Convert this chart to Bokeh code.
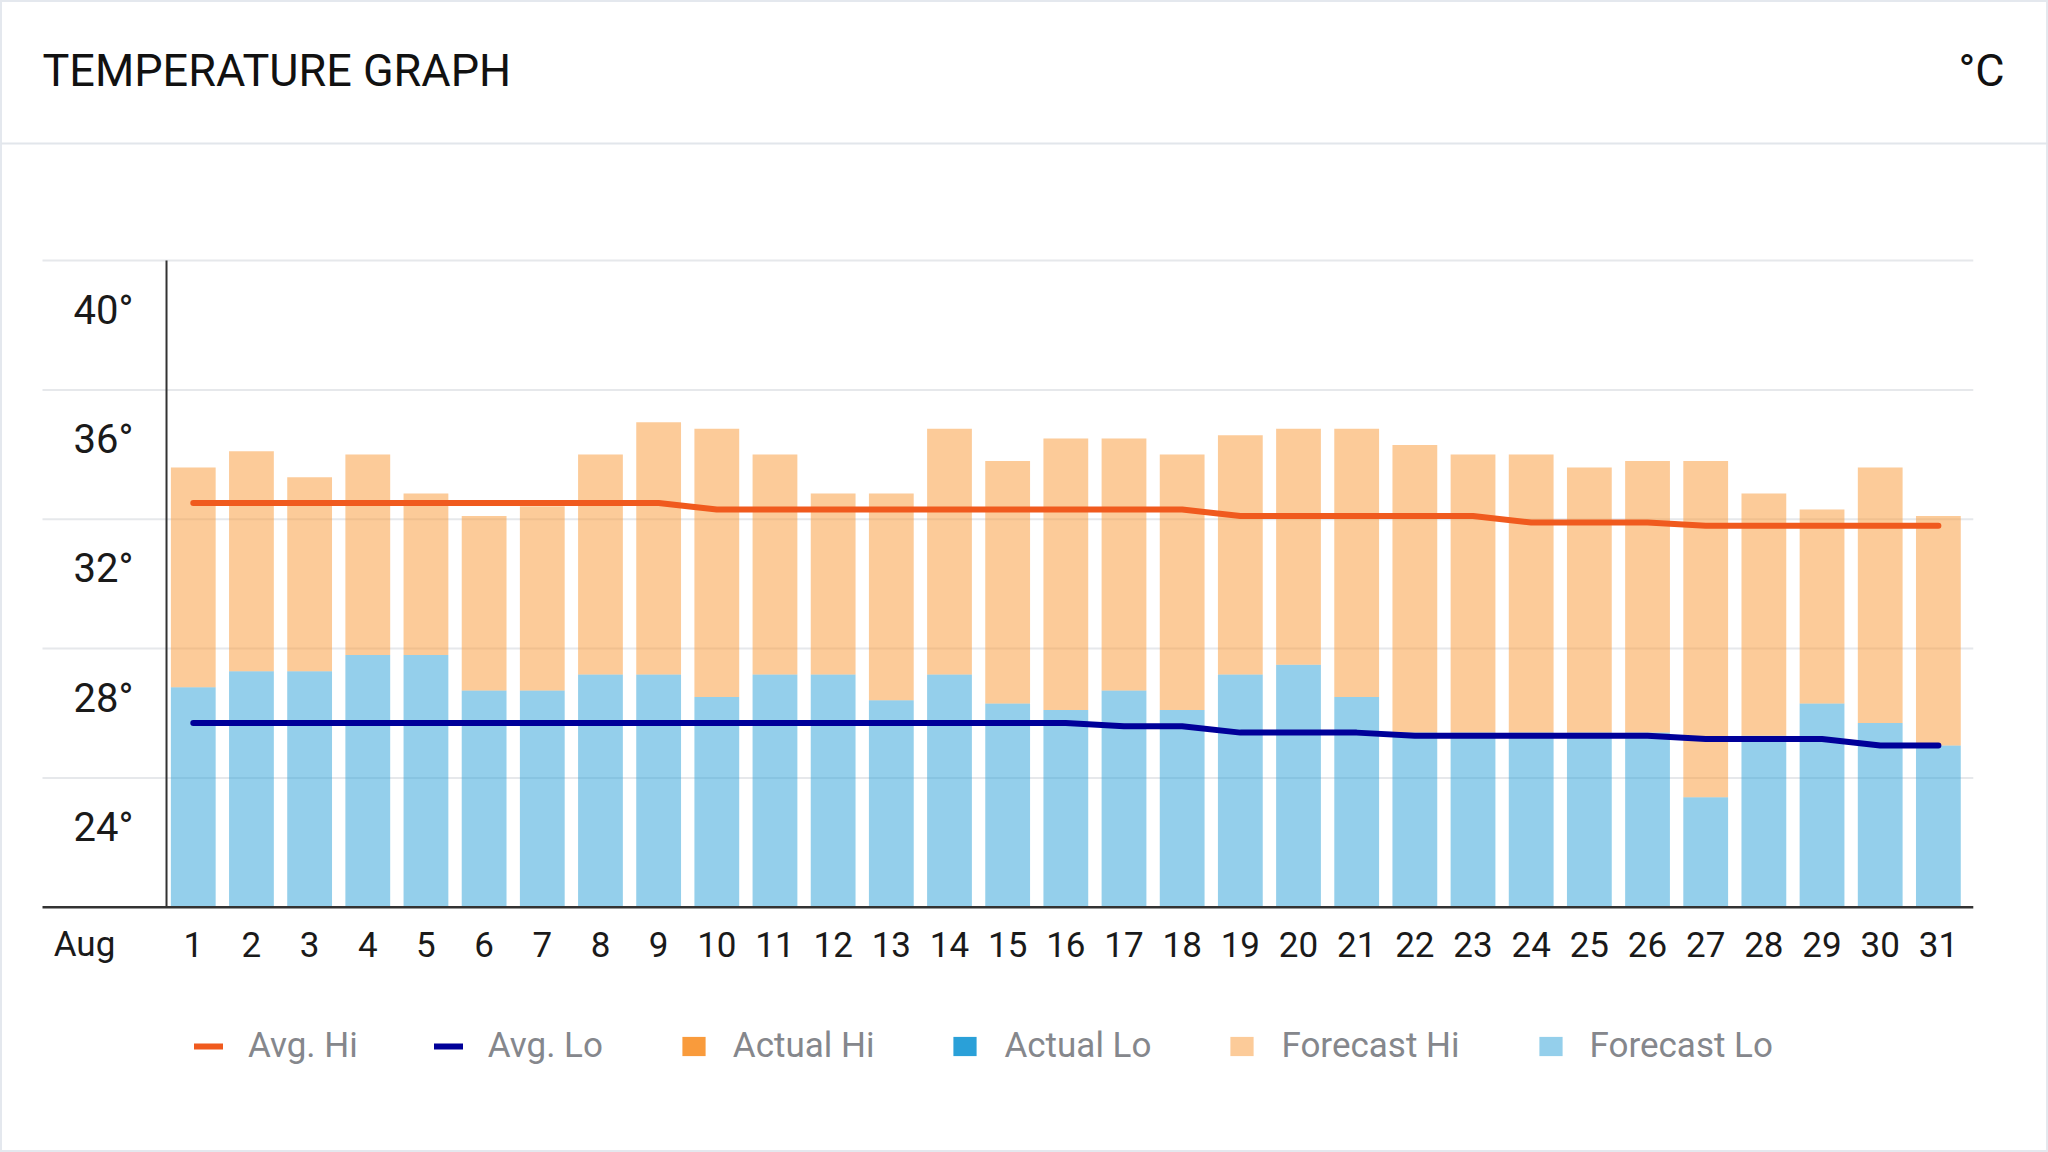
from bokeh.plotting import figure
from bokeh.embed import file_html
from bokeh.resources import INLINE
from bokeh.models import Legend, LegendItem, Label, Span, ColumnDataSource
from bokeh.core.properties import value

# ---- data ----
month = "Aug"
days = list(range(1, 32))
forecast_hi = [33.6, 34.1, 33.3, 34.0, 32.8, 32.1, 32.4, 34.0, 35.0, 34.8,
               34.0, 32.8, 32.8, 34.8, 33.8, 34.5, 34.5, 34.0, 34.6, 34.8,
               34.8, 34.3, 34.0, 34.0, 33.6, 33.8, 33.8, 32.8, 32.3, 33.6, 32.1]
forecast_lo = [26.8, 27.3, 27.3, 27.8, 27.8, 26.7, 26.7, 27.2, 27.2, 26.5,
               27.2, 27.2, 26.4, 27.2, 26.3, 26.1, 26.7, 26.1, 27.2, 27.5,
               26.5, 25.4, 25.4, 25.4, 25.4, 25.4, 23.4, 25.3, 26.3, 25.7, 25.0]
avg_hi = [32.5, 32.5, 32.5, 32.5, 32.5, 32.5, 32.5, 32.5, 32.5, 32.3,
          32.3, 32.3, 32.3, 32.3, 32.3, 32.3, 32.3, 32.3, 32.1, 32.1,
          32.1, 32.1, 32.1, 31.9, 31.9, 31.9, 31.8, 31.8, 31.8, 31.8, 31.8]
avg_lo = [25.7, 25.7, 25.7, 25.7, 25.7, 25.7, 25.7, 25.7, 25.7, 25.7,
          25.7, 25.7, 25.7, 25.7, 25.7, 25.7, 25.6, 25.6, 25.4, 25.4,
          25.4, 25.3, 25.3, 25.3, 25.3, 25.3, 25.2, 25.2, 25.2, 25.0, 25.0]
# no observed days in this month yet
actual_days, actual_hi, actual_lo = [], [], []
y_ticks = [24, 28, 32, 36, 40]
y_tick_labels = ["24°", "28°", "32°", "36°", "40°"]
y_floor = 20

FONT = "Roboto"
HI_COLOR = "#f99b3c"
LO_COLOR = "#2aa0d8"
INK = "#1a1a1a"

W, H = 2048, 1152

# the frame is the whole card; axes are drawn by hand inside it
p = figure(width=W, height=H, output_backend="svg", toolbar_location=None,
           tools="", x_range=(-2.314, 32.893), y_range=(12.413, 48.045),
           x_axis_location=None, y_axis_location=None,
           min_border_left=0, min_border_right=0,
           min_border_top=0, min_border_bottom=0)
p.xgrid.visible = False
p.ygrid.visible = False
p.outline_line_color = "#e4e8ee"
p.outline_line_width = 3

x_left, x_right = -1.592, 31.6

# gridlines
p.segment(x0=x_left, x1=x_right, y0=y_ticks, y1=y_ticks,
          line_color="#e6e8eb", line_width=2)

src = ColumnDataSource(dict(day=days, hi=forecast_hi, lo=forecast_lo,
                            floor=[y_floor] * len(days)))
fc_lo = p.vbar(x="day", width=0.77, bottom="floor", top="lo", source=src,
               fill_color=LO_COLOR, fill_alpha=0.5, line_color=None)
fc_hi = p.vbar(x="day", width=0.77, bottom="lo", top="hi", source=src,
               fill_color=HI_COLOR, fill_alpha=0.52, line_color=None)

# actual bars; an empty source would leave its legend swatch blank,
# so a NaN row stands in while there is nothing observed
nan = float("nan")
act = ColumnDataSource(dict(day=actual_days or [nan],
                            hi=actual_hi or [nan],
                            lo=actual_lo or [nan]))
ac_hi = p.vbar(x="day", width=0.77, bottom="lo", top="hi", source=act,
               fill_color=HI_COLOR, line_color=None)
ac_lo = p.vbar(x="day", width=0.77, bottom=y_floor, top="lo", source=act,
               fill_color=LO_COLOR, line_color=None)

l_hi = p.line(days, avg_hi, line_color="#f05a1e", line_width=6,
              line_cap="round", line_join="round")
l_lo = p.line(days, avg_lo, line_color="#000099", line_width=6,
              line_cap="round", line_join="round")

# axis lines
p.segment(x0=[0.54], x1=[0.54], y0=[y_floor], y1=[y_ticks[-1]],
          line_color="#333333", line_width=2)
p.segment(x0=[x_left], x1=[x_right], y0=[y_floor], y1=[y_floor],
          line_color="#333333", line_width=2.5)

# y tick labels sit just under their gridline
p.text(x=[-0.03] * len(y_ticks), y=[t - 1.53 for t in y_ticks],
       text=y_tick_labels, text_font=value(FONT), text_font_size=value("40px"),
       text_align="right", text_baseline="middle", text_color=INK)

# x tick labels, month first
p.text(x=[-0.87] + days, y=[y_floor - 1.15] * (len(days) + 1),
       text=[month] + [str(d) for d in days], text_font=value(FONT),
       text_font_size=value("35px"), text_align="center",
       text_baseline="middle", text_color=INK)

# header
p.add_layout(Label(x=42, y=H - 70, x_units="screen", y_units="screen",
                   text="TEMPERATURE GRAPH", text_font=FONT,
                   text_font_size="45px", text_color="#111111",
                   text_baseline="middle"))
p.add_layout(Label(x=2004, y=H - 70, x_units="screen", y_units="screen",
                   text="°C", text_font=FONT, text_font_size="45px",
                   text_color="#111111", text_align="right",
                   text_baseline="middle"))
p.add_layout(Span(location=43.62, dimension="width", line_color="#e2e6eb",
                  line_width=2))

legend = Legend(items=[
    LegendItem(label="Avg. Hi", renderers=[l_hi]),
    LegendItem(label="Avg. Lo", renderers=[l_lo]),
    LegendItem(label="Actual Hi", renderers=[ac_hi]),
    LegendItem(label="Actual Lo", renderers=[ac_lo]),
    LegendItem(label="Forecast Hi", renderers=[fc_hi]),
    LegendItem(label="Forecast Lo", renderers=[fc_lo]),
], orientation="horizontal", location=(194, 86))
legend.glyph_width = 29
legend.glyph_height = 24
legend.label_standoff = 25
legend.spacing = 76
legend.padding = 0
legend.margin = 0
legend.border_line_color = None
legend.background_fill_alpha = 0
legend.label_text_font = FONT
legend.label_text_font_size = "35px"
legend.label_text_color = "#85878c"
p.add_layout(legend)

open("out.html", "w").write(file_html(p, INLINE))
